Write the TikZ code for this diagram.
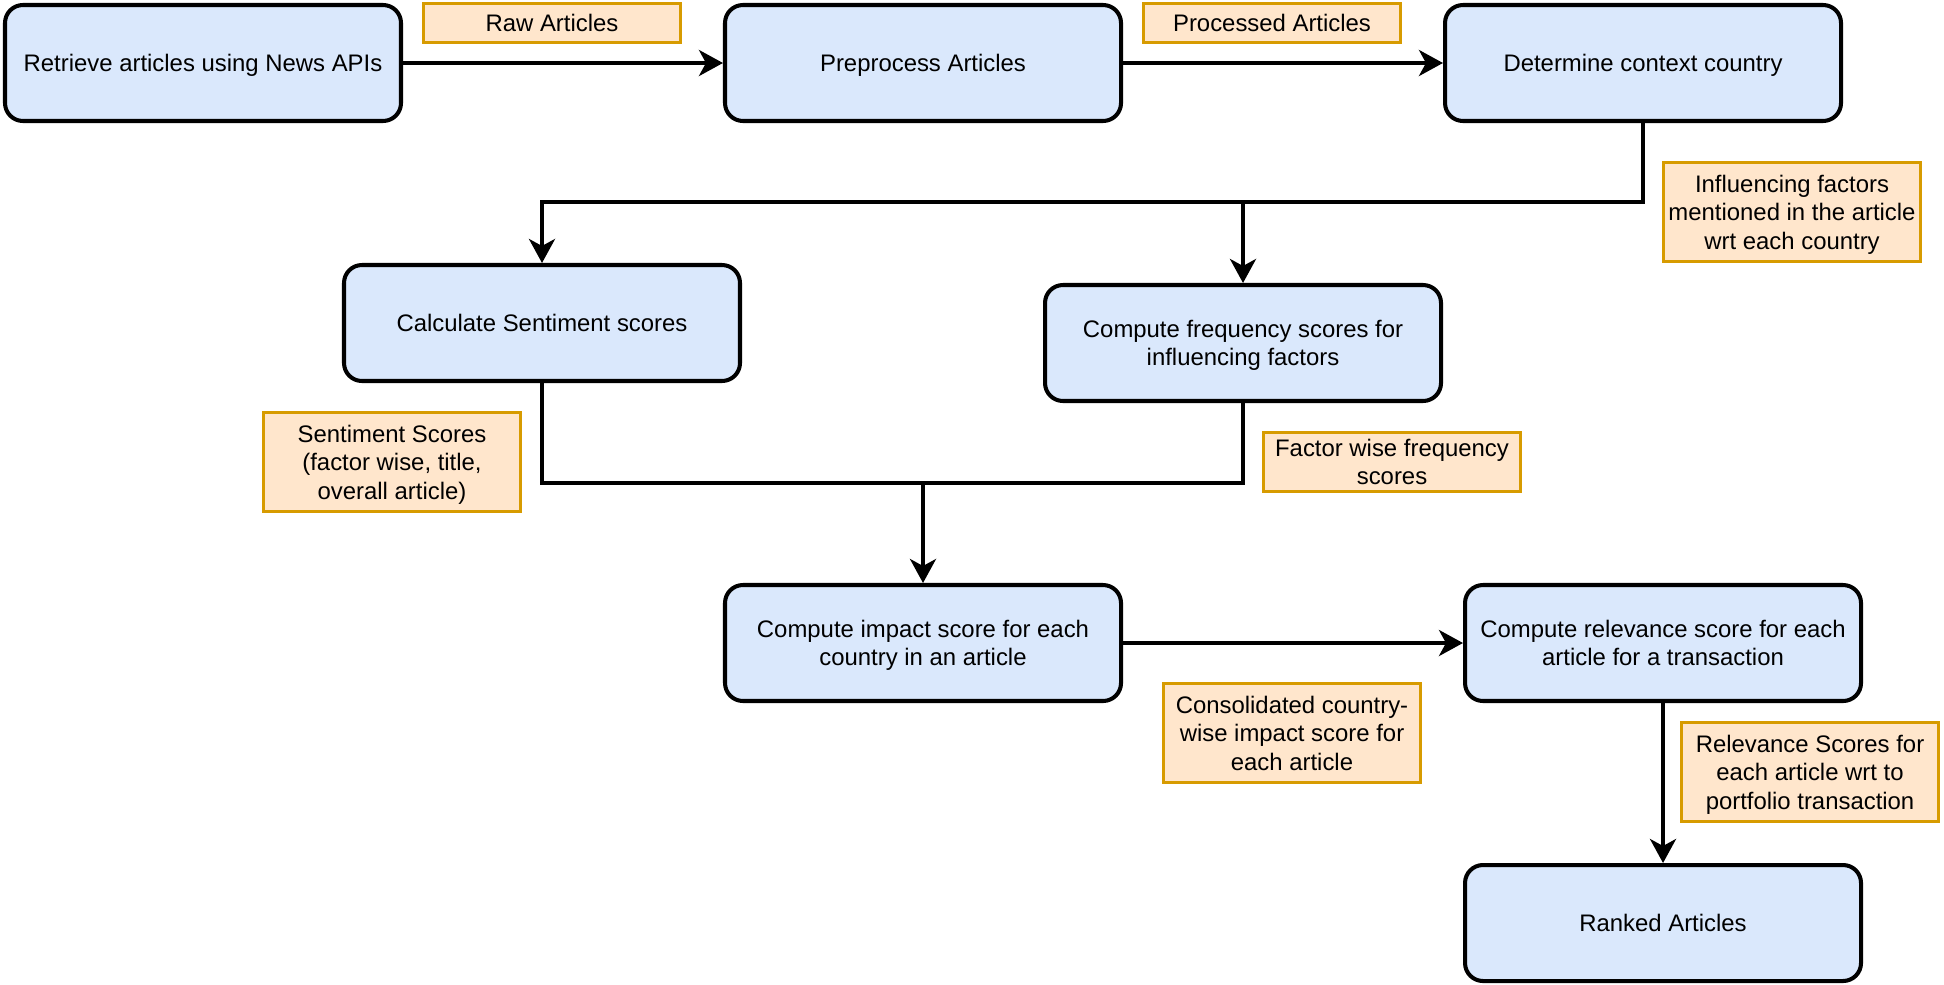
\documentclass[tikz,border=0pt]{standalone}
\usepackage{fontspec}
\setmainfont{Liberation Sans}
\usetikzlibrary{arrows.meta}
\definecolor{boxblue}{HTML}{DAE8FC}
\definecolor{tagfill}{HTML}{FFE6CC}
\definecolor{tagline}{HTML}{D79B00}

\begin{document}
\begin{tikzpicture}[
    font=\fontsize{6.8}{8.1}\selectfont,
    stage/.style={draw, line width=1.15pt, rounded corners=0.18cm, fill=boxblue,
      minimum width=3.96cm, minimum height=1.16cm, align=center, inner sep=0pt, text depth=0pt},
    tag/.style={draw=tagline, line width=0.95pt, fill=tagfill, minimum width=2.57cm,
      align=center, inner sep=0pt, text depth=0pt},
    flow/.style={line width=1.1pt, -{Stealth[length=0.24cm, width=0.26cm, inset=0.07cm]}},
    link/.style={line width=1.1pt}
  ]
      \useasboundingbox (0,0) rectangle (19.44,-9.84);
      % stages
      \node[stage] (R) at (2.03,-0.63) {Retrieve articles using News APIs};
      \node[stage] (P) at (9.23,-0.63) {Preprocess Articles};
      \node[stage] (D) at (16.43,-0.63) {Determine context country};
      \node[stage] (S) at (5.42,-3.23) {Calculate Sentiment scores};
      \node[stage] (F) at (12.43,-3.43) {Compute frequency scores for\\influencing factors};
      \node[stage] (I) at (9.23,-6.43) {Compute impact score for each\\country in an article};
      \node[stage] (V) at (16.63,-6.43) {Compute relevance score for each\\article for a transaction};
      \node[stage] (K) at (16.63,-9.23) {Ranked Articles};
      % data tags
      \node[tag, minimum height=0.39cm] (rawT) at (5.52,-0.23) {Raw Articles};
      \node[tag, minimum height=0.39cm] (procT) at (12.72,-0.23) {Processed Articles};
      \node[tag, minimum height=0.99cm] (inflT) at (17.92,-2.12) {Influencing factors\\mentioned in the article\\wrt each country};
      \node[tag, minimum height=0.99cm] (sentT) at (3.92,-4.62) {Sentiment Scores\\(factor wise, title,\\overall article)};
      \node[tag, minimum height=0.59cm] (freqT) at (13.92,-4.62) {Factor wise frequency\\scores};
      \node[tag, minimum height=0.99cm] (consT) at (12.92,-7.33) {Consolidated country-\\wise impact score for\\each article};
      \node[tag, minimum height=0.99cm] (relT) at (18.10,-7.72) {Relevance Scores for\\each article wrt to\\portfolio transaction};
      % connectors
      \coordinate (fork) at (12.43,-2.02);
      \coordinate (join) at (9.23,-4.83);
      \draw[flow] (R) -- (P);
      \draw[flow] (P) -- (D);
      \draw[flow] (D.south) |- (fork) -| (S.north);
      \draw[flow] (fork) -- (F.north);
      \draw[link] (S.south) |- (join) -| (F.south);
      \draw[flow] (join) -- (I.north);
      \draw[flow] (I) -- (V);
      \draw[flow] (V) -- (K);
\end{tikzpicture}
\end{document}
